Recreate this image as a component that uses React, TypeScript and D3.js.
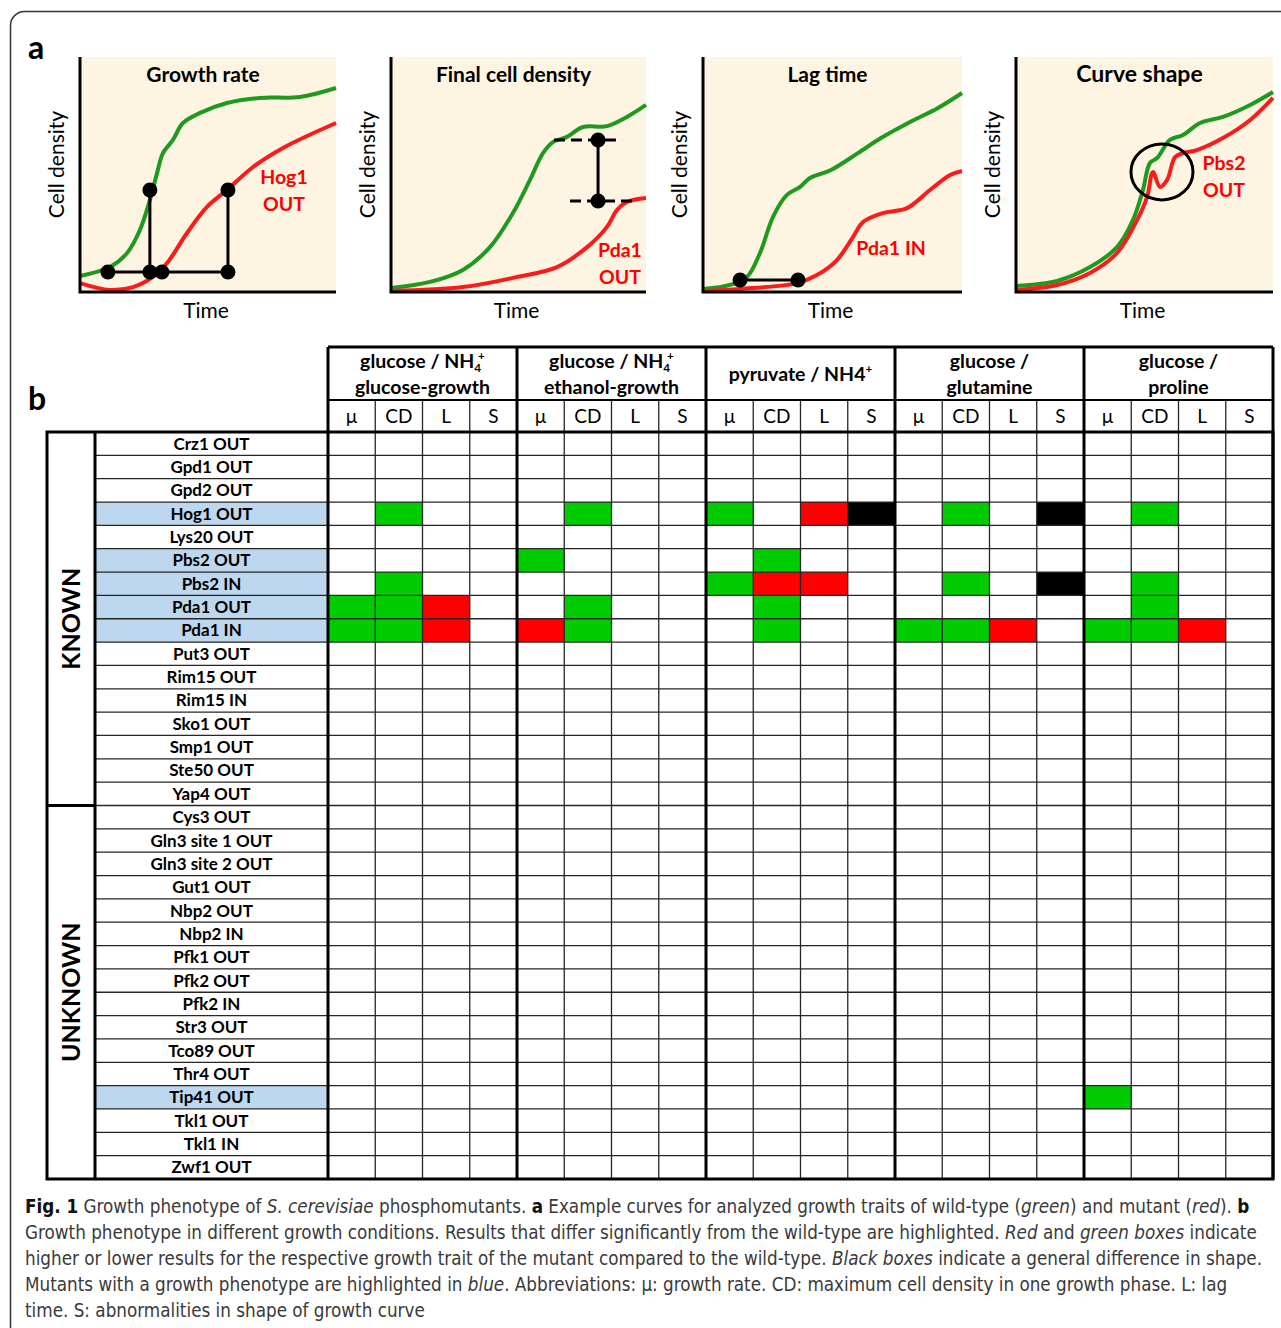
import * as d3 from "d3";

const W = 1281;
const H = 1328;

const COLORS = {
  cream: "#fdf5e2",
  wtLine: "#1f9a1f",
  mutLine: "#ff1a1a",
  label: "#ff0000",
  lower: "#00cc00", // mutant lower than wild-type
  higher: "#ff0000", // mutant higher than wild-type
  shape: "#000000",
  highlight: "#bdd7ee",
  grid: "#262626",
  caption: "#3a3a3a",
};

const FONT = "Lato, 'Open Sans', sans-serif";
const CAPTION_FONT = "'Liberation Sans Narrow', 'DejaVu Sans Condensed', sans-serif";

// ---- panel a: example curves, [time %, density %] of each plot box
const growthRateWT = [[0, 6.8], [11.7, 10.6], [18.4, 16.6], [23.4, 26.4], [27.3, 39.1], [30.1, 50.6], [32.4, 59.1], [36.3, 64.7], [40.2, 71.9], [46.9, 76.2], [57.4, 80.4], [70.3, 82.6], [85.9, 83.0], [100, 86.8]];
const growthRateMut = [[0, 3.8], [11.7, 0.9], [20.7, 2.1], [28.5, 6.4], [34, 12.3], [41.8, 25.1], [49.6, 36.2], [57.4, 43.4], [67.6, 53.2], [79.3, 61.3], [100, 71.9]];
const finalDensityWT = [[0, 1.7], [15.3, 4.3], [28.2, 9.4], [38.8, 19.1], [47.8, 33.6], [54.5, 47.7], [59.6, 59.1], [63.5, 63.8], [69, 66], [75.3, 70.2], [84.7, 70.6], [92.5, 74.5], [100, 79.6]];
const finalDensityMut = [[0, 0.4], [28.2, 2.1], [47.8, 6], [65.1, 10.6], [76.9, 19.1], [84.7, 27.7], [88.6, 34.9], [92.5, 38.3], [100, 40]];
const lagTimeWT = [[0, 1.3], [10.4, 3], [17, 6.4], [22, 16.6], [27, 31.9], [32.4, 41.3], [37.5, 44.7], [41.3, 48.5], [49.4, 51.9], [59.8, 59.1], [68.7, 65.5], [79.2, 71.9], [90.7, 78.3], [100, 84.7]];
const lagTimeMut = [[0, 0.4], [14.3, 1.3], [36.3, 3.8], [44, 7.2], [51.7, 13.6], [57.9, 23.4], [61.8, 29.8], [69.5, 33.6], [78.8, 35.7], [87.6, 43.4], [95.4, 49.8], [100, 51.5]];
const curveShapeWT = [[0, 2.6], [16, 4.7], [28.8, 10.6], [39.3, 19.1], [45.5, 30.6], [49.4, 43.4], [52.1, 54.9], [54.9, 57], [59.9, 64.7], [65, 66.8], [71.6, 71.9], [80.5, 74.5], [91.1, 79.6], [100, 85.1]];
const curveShapeMut = [[0, 0.9], [16, 3], [28.8, 8.1], [39.3, 16.6], [47.1, 30.6], [51, 40.4], [53.3, 51.1], [56, 44.7], [58.8, 47.7], [61.9, 57.4], [65, 59.1], [70.4, 60.4], [80.5, 65.5], [91.1, 73.2], [100, 82.6]];

// ---- panel b: table
const traits = ["µ", "CD", "L", "S"];
const conditionTitles = [
  ["glucose / NH_4^+", "glucose-growth"],
  ["glucose / NH_4^+", "ethanol-growth"],
  ["pyruvate / NH4^+"],
  ["glucose /", "glutamine"],
  ["glucose /", "proline"],
];
const knownMutants = ["Crz1 OUT", "Gpd1 OUT", "Gpd2 OUT", "Hog1 OUT", "Lys20 OUT", "Pbs2 OUT", "Pbs2 IN", "Pda1 OUT", "Pda1 IN", "Put3 OUT", "Rim15 OUT", "Rim15 IN", "Sko1 OUT", "Smp1 OUT", "Ste50 OUT", "Yap4 OUT"];
const unknownMutants = ["Cys3 OUT", "Gln3 site 1 OUT", "Gln3 site 2 OUT", "Gut1 OUT", "Nbp2 OUT", "Nbp2 IN", "Pfk1 OUT", "Pfk2 OUT", "Pfk2 IN", "Str3 OUT", "Tco89 OUT", "Thr4 OUT", "Tip41 OUT", "Tkl1 OUT", "Tkl1 IN", "Zwf1 OUT"];
const phenotypeMutants = ["Hog1 OUT", "Pbs2 OUT", "Pbs2 IN", "Pda1 OUT", "Pda1 IN", "Tip41 OUT"];
// [mutant, condition index, trait, effect]
const hits = [
  ["Hog1 OUT", 0, "CD", "lower"], ["Hog1 OUT", 1, "CD", "lower"], ["Hog1 OUT", 2, "µ", "lower"], ["Hog1 OUT", 2, "L", "higher"], ["Hog1 OUT", 2, "S", "shape"], ["Hog1 OUT", 3, "CD", "lower"], ["Hog1 OUT", 3, "S", "shape"], ["Hog1 OUT", 4, "CD", "lower"],
  ["Pbs2 OUT", 1, "µ", "lower"], ["Pbs2 OUT", 2, "CD", "lower"],
  ["Pbs2 IN", 0, "CD", "lower"], ["Pbs2 IN", 2, "µ", "lower"], ["Pbs2 IN", 2, "CD", "higher"], ["Pbs2 IN", 2, "L", "higher"], ["Pbs2 IN", 3, "CD", "lower"], ["Pbs2 IN", 3, "S", "shape"], ["Pbs2 IN", 4, "CD", "lower"],
  ["Pda1 OUT", 0, "µ", "lower"], ["Pda1 OUT", 0, "CD", "lower"], ["Pda1 OUT", 0, "L", "higher"], ["Pda1 OUT", 1, "CD", "lower"], ["Pda1 OUT", 2, "CD", "lower"], ["Pda1 OUT", 4, "CD", "lower"],
  ["Pda1 IN", 0, "µ", "lower"], ["Pda1 IN", 0, "CD", "lower"], ["Pda1 IN", 0, "L", "higher"], ["Pda1 IN", 1, "µ", "higher"], ["Pda1 IN", 1, "CD", "lower"], ["Pda1 IN", 2, "CD", "lower"], ["Pda1 IN", 3, "µ", "lower"], ["Pda1 IN", 3, "CD", "lower"], ["Pda1 IN", 3, "L", "higher"], ["Pda1 IN", 4, "µ", "lower"], ["Pda1 IN", 4, "CD", "lower"], ["Pda1 IN", 4, "L", "higher"],
  ["Tip41 OUT", 4, "µ", "lower"],
];

// caption: segments [text, style] with style "" | "b" | "i"
const captionLines = [
  [["Fig. 1", "b"], [" Growth phenotype of ", ""], ["S. cerevisiae", "i"], [" phosphomutants. ", ""], ["a", "b"], [" Example curves for analyzed growth traits of wild-type (", ""], ["green", "i"], [") and mutant (", ""], ["red", "i"], ["). ", ""], ["b", "b"]],
  [["Growth phenotype in different growth conditions. Results that differ significantly from the wild-type are highlighted. ", ""], ["Red", "i"], [" and ", ""], ["green boxes", "i"], [" indicate", ""]],
  [["higher or lower results for the respective growth trait of the mutant compared to the wild-type. ", ""], ["Black boxes", "i"], [" indicate a general difference in shape.", ""]],
  [["Mutants with a growth phenotype are highlighted in ", ""], ["blue", "i"], [". Abbreviations: µ: growth rate. CD: maximum cell density in one growth phase. L: lag", ""]],
  [["time. S: abnormalities in shape of growth curve", ""]],
];

function CurvePanel({ x0, x1, title, titleSize = 21, wt, mut, children }) {
  const y0 = 57;
  const y1 = 292;
  const xs = d3.scaleLinear().domain([0, 100]).range([x0, x1]);
  const ys = d3.scaleLinear().domain([0, 100]).range([y1, y0]);
  const line = d3
    .line()
    .x((d) => xs(d[0]))
    .y((d) => ys(d[1]))
    .curve(d3.curveCatmullRom.alpha(0.5));
  return (
    <g>
      <rect x={x0} y={y0} width={x1 - x0} height={y1 - y0} fill={COLORS.cream} />
      <text x={(x0 + x1) / 2 - 5} y={y0 + 25} textAnchor="middle" fontSize={titleSize} fontWeight="700" fontFamily={FONT}>
        {title}
      </text>
      <path d={line(wt)} fill="none" stroke={COLORS.wtLine} strokeWidth={4} strokeLinejoin="round" />
      <path d={line(mut)} fill="none" stroke={COLORS.mutLine} strokeWidth={4} strokeLinejoin="round" />
      {children(xs, ys)}
      <path d={`M${x0},${y0}V${y1}H${x1}`} fill="none" stroke="#000" strokeWidth={3} />
      <text transform={`translate(${x0 - 16},${(y0 + y1) / 2 - 10}) rotate(-90)`} textAnchor="middle" fontSize={21} fontFamily={FONT}>
        Cell density
      </text>
      <text x={(x0 + x1) / 2 - 2} y={318} textAnchor="middle" fontSize={21} fontFamily={FONT}>
        Time
      </text>
    </g>
  );
}

const Dot = ({ cx, cy }) => <circle cx={cx} cy={cy} r={7.5} fill="#000" />;

function MutLabel({ x, y, lines }) {
  return (
    <text x={x} y={y} textAnchor="middle" fontSize={19.5} fontWeight="700" fill={COLORS.label} fontFamily={FONT}>
      {lines.map((l, i) => (
        <tspan key={i} x={x} dy={i === 0 ? 0 : 27}>
          {l}
        </tspan>
      ))}
    </text>
  );
}

// "NH_4^+" -> tspans with sub/superscripts
function RichText({ s, x, y, size }) {
  const parts = [];
  const re = /_(\S)|\^(\S)/g;
  let last = 0;
  let m;
  while ((m = re.exec(s))) {
    if (m.index > last) parts.push({ t: s.slice(last, m.index), k: "n" });
    parts.push(m[1] ? { t: m[1], k: "sub" } : { t: m[2], k: "sup" });
    last = re.lastIndex;
  }
  if (last < s.length) parts.push({ t: s.slice(last), k: "n" });
  let shift = 0;
  return (
    <text x={x} y={y} textAnchor="middle" fontSize={size} fontWeight="700" fontFamily={FONT}>
      {parts.map((p, i) => {
        const target = p.k === "sub" ? 4 : p.k === "sup" ? -8 : 0;
        const dy = target - shift;
        shift = target;
        const dx = p.k === "sup" && i > 0 && parts[i - 1].k === "sub" ? -size * 0.15 : 0;
        return (
          <tspan key={i} dy={dy} dx={dx} fontSize={p.k === "n" ? size : size * 0.6}>
            {p.t}
          </tspan>
        );
      })}
    </text>
  );
}

export default function App() {
  const allMutants = [...knownMutants, ...unknownMutants];
  const colKeys = conditionTitles.flatMap((_, ci) => traits.map((t) => `${ci}-${t}`));
  const xCol = d3.scaleBand().domain(colKeys).range([328, 1273]);
  const yRow = d3.scaleBand().domain(allMutants).range([432, 1179]);
  const cw = xCol.bandwidth();
  const rh = yRow.bandwidth();
  const effectColor = { lower: COLORS.lower, higher: COLORS.higher, shape: COLORS.shape };
  const tableLeft = 47;
  const labelLeft = 95;
  const tableRight = 1273;
  const top = 432;
  const bottom = 1179;
  const headTop = 347;
  const headMid = 400;
  const sepY = yRow(unknownMutants[0]);
  const condEdges = conditionTitles.map((_, ci) => xCol(`${ci}-µ`)).concat([tableRight]);

  return (
    <svg width={W} height={H} style={{ position: "absolute", left: 0, top: 0, background: "#fff" }}>
      <rect x={10.5} y={11.5} width={1400} height={1500} rx={14} fill="none" stroke="#333" strokeWidth={1.5} />

      {/* ---------- a ---------- */}
      <text x={28} y={59} fontSize={32} fontWeight="700" fontFamily={FONT}>a</text>

      <CurvePanel x0={80} x1={336} title="Growth rate" wt={growthRateWT} mut={growthRateMut}>
        {(xs, ys) => (
          <g>
            <path d={`M${xs(10.9)},${ys(8.5)}H${xs(57.8)}M${xs(27.3)},${ys(8.5)}V${ys(43.4)}M${xs(57.8)},${ys(8.5)}V${ys(43.4)}`} stroke="#000" strokeWidth={3} fill="none" />
            {[[10.9, 8.5], [27.3, 8.5], [32, 8.5], [57.8, 8.5], [27.3, 43.4], [57.8, 43.4]].map((p, i) => (
              <Dot key={i} cx={xs(p[0])} cy={ys(p[1])} />
            ))}
            <MutLabel x={284} y={184} lines={["Hog1", "OUT"]} />
          </g>
        )}
      </CurvePanel>

      <CurvePanel x0={391} x1={646} title="Final cell density" wt={finalDensityWT} mut={finalDensityMut}>
        {(xs, ys) => (
          <g>
            <path d={`M${xs(63.9)},${ys(64.7)}H${xs(90.6)}M${xs(70.2)},${ys(38.7)}H${xs(96.5)}`} stroke="#000" strokeWidth={3} strokeDasharray="11,6" fill="none" />
            <path d={`M${xs(81.2)},${ys(64.7)}V${ys(38.7)}`} stroke="#000" strokeWidth={3} />
            <Dot cx={xs(81.2)} cy={ys(64.7)} />
            <Dot cx={xs(81.2)} cy={ys(38.7)} />
            <MutLabel x={620} y={257} lines={["Pda1", "OUT"]} />
          </g>
        )}
      </CurvePanel>

      <CurvePanel x0={703} x1={962} title="Lag time" wt={lagTimeWT} mut={lagTimeMut}>
        {(xs, ys) => (
          <g>
            <path d={`M${xs(14.3)},${ys(5.1)}H${xs(36.7)}`} stroke="#000" strokeWidth={3} />
            <Dot cx={xs(14.3)} cy={ys(5.1)} />
            <Dot cx={xs(36.7)} cy={ys(5.1)} />
            <MutLabel x={891} y={255} lines={["Pda1 IN"]} />
          </g>
        )}
      </CurvePanel>

      <CurvePanel x0={1016} x1={1273} title="Curve shape" titleSize={23} wt={curveShapeWT} mut={curveShapeMut}>
        {(xs, ys) => (
          <g>
            <ellipse cx={xs(56.8)} cy={ys(51.1)} rx={31} ry={28} fill="none" stroke="#000" strokeWidth={3} />
            <MutLabel x={1224} y={170} lines={["Pbs2", "OUT"]} />
          </g>
        )}
      </CurvePanel>

      {/* ---------- b ---------- */}
      <text x={28} y={410} fontSize={32} fontWeight="700" fontFamily={FONT}>b</text>

      {/* row highlights */}
      {phenotypeMutants.map((m) => (
        <rect key={m} x={labelLeft} y={yRow(m)} width={328 - labelLeft} height={rh} fill={COLORS.highlight} />
      ))}

      {/* phenotype cells */}
      {hits.map(([m, ci, t, e], i) => (
        <rect key={i} x={xCol(`${ci}-${t}`)} y={yRow(m)} width={cw} height={rh} fill={effectColor[e]} />
      ))}

      {/* thin grid */}
      <g stroke={COLORS.grid} strokeWidth={1.3}>
        {allMutants.slice(1).map((m) => (
          <line key={m} x1={labelLeft} x2={tableRight} y1={yRow(m)} y2={yRow(m)} />
        ))}
        {colKeys.map((k) => (
          <line key={k} x1={xCol(k)} x2={xCol(k)} y1={headMid} y2={bottom} />
        ))}
      </g>

      {/* thick frame lines */}
      <g stroke="#000" strokeWidth={3} fill="none">
        <rect x={tableLeft} y={top} width={tableRight - tableLeft} height={bottom - top} />
        <line x1={labelLeft} x2={labelLeft} y1={top} y2={bottom} />
        <line x1={tableLeft} x2={labelLeft} y1={sepY} y2={sepY} />
        <line x1={328} x2={tableRight} y1={headTop} y2={headTop} />
        <line x1={328} x2={tableRight} y1={headMid} y2={headMid} strokeWidth={2} />
        {condEdges.map((x, i) => (
          <line key={i} x1={x} x2={x} y1={headTop} y2={bottom} />
        ))}
      </g>

      {/* header text */}
      {conditionTitles.map((lines, ci) => {
        const cx = (condEdges[ci] + condEdges[ci + 1]) / 2;
        const ys = lines.length === 1 ? [381] : [368, 394];
        return lines.map((l, li) => <RichText key={`${ci}-${li}`} s={l} x={cx} y={ys[li]} size={19.5} />);
      })}
      {colKeys.map((k, i) => (
        <text key={k} x={xCol(k) + cw / 2} y={423} textAnchor="middle" fontSize={19} fontFamily={FONT}>
          {traits[i % 4]}
        </text>
      ))}

      {/* row labels */}
      {allMutants.map((m) => (
        <text key={m} x={(labelLeft + 328) / 2} y={yRow(m) + rh / 2 + 6} textAnchor="middle" fontSize={17} fontWeight="700" fontFamily={FONT}>
          {m}
        </text>
      ))}
      <text transform={`translate(${80},${(top + sepY) / 2}) rotate(-90)`} textAnchor="middle" fontSize={25} fontWeight="700" fontFamily={FONT}>
        KNOWN
      </text>
      <text transform={`translate(${80},${(sepY + bottom) / 2}) rotate(-90)`} textAnchor="middle" fontSize={25} fontWeight="700" fontFamily={FONT}>
        UNKNOWN
      </text>

      {/* caption */}
      {captionLines.map((segs, li) => (
        <text key={li} x={25} y={1213 + li * 26} fontSize={18.7} fill={COLORS.caption} fontFamily={CAPTION_FONT}>
          {segs.map(([t, s], si) => (
            <tspan key={si} fontWeight={s === "b" ? 700 : 400} fontStyle={s === "i" ? "italic" : "normal"} fill={s === "b" ? "#111" : COLORS.caption}>
              {t}
            </tspan>
          ))}
        </text>
      ))}
    </svg>
  );
}
